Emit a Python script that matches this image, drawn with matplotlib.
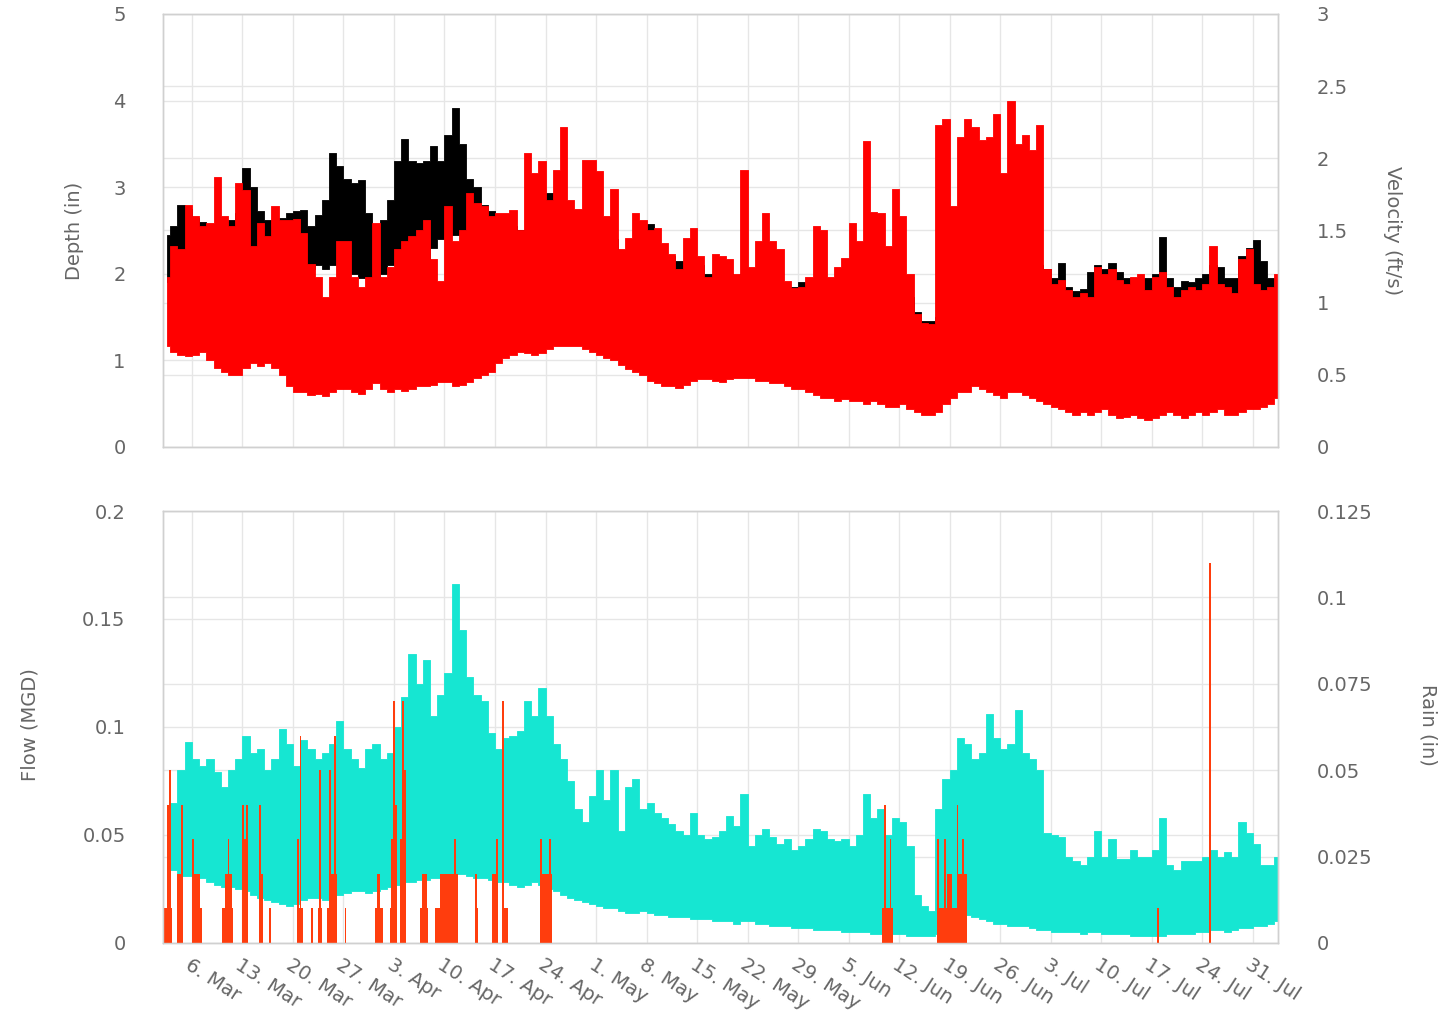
import numpy as np
import pandas as pd
import matplotlib
matplotlib.use("Agg")
import matplotlib.pyplot as plt
import matplotlib.dates as mdates
from matplotlib.ticker import FormatStrFormatter

# Daily envelopes (low / high of the 15-min record),
# one value per day starting 2 Mar 2017
start = "2017-03-02"

vel_hi = [1.18, 1.39, 1.37, 1.68, 1.60, 1.53, 1.55, 1.87, 1.60, 1.53,
          1.83, 1.78, 1.39, 1.55, 1.46, 1.67, 1.57, 1.57, 1.58, 1.48,
          1.27, 1.18, 1.04, 1.18, 1.43, 1.43, 1.18, 1.11, 1.18, 1.55,
          1.18, 1.25, 1.37, 1.43, 1.46, 1.50, 1.57, 1.30, 1.15,
          1.67, 1.43, 1.50, 1.76, 1.69, 1.67, 1.60, 1.62, 1.62, 1.64,
          1.50, 2.04, 1.90, 1.98, 1.71, 1.92, 2.22, 1.71, 1.65, 1.99,
          1.99, 1.91, 1.60, 1.79, 1.37, 1.45, 1.62, 1.57, 1.50, 1.52,
          1.41, 1.34, 1.23, 1.45, 1.52, 1.32, 1.18, 1.34, 1.32,
          1.30, 1.20, 1.92, 1.25, 1.43, 1.62, 1.43, 1.37, 1.15, 1.10,
          1.11, 1.18, 1.53, 1.50, 1.18, 1.25, 1.31, 1.55, 1.43, 2.12,
          1.63, 1.62, 1.39, 1.79, 1.60, 1.20, 0.92, 0.86, 0.85, 2.23,
          2.27, 1.67, 2.15, 2.27, 2.22, 2.13, 2.15, 2.31, 1.90,
          2.40, 2.10, 2.16, 2.06, 2.23, 1.23, 1.13, 1.16, 1.09, 1.04,
          1.07, 1.04, 1.25, 1.20, 1.23, 1.16, 1.13, 1.18, 1.20, 1.09,
          1.18, 1.21, 1.11, 1.04, 1.09, 1.11, 1.09, 1.13, 1.39, 1.13,
          1.11, 1.07, 1.30, 1.37, 1.13, 1.09, 1.11, 1.20]

vel_lo = [0.70, 0.66, 0.64, 0.63, 0.64, 0.66, 0.60, 0.55, 0.52, 0.50,
          0.50, 0.55, 0.58, 0.56, 0.58, 0.55, 0.50, 0.42, 0.38, 0.38,
          0.36, 0.37, 0.35, 0.38, 0.40, 0.40, 0.38, 0.37, 0.40, 0.44,
          0.40, 0.38, 0.40, 0.39, 0.40, 0.42, 0.42, 0.43, 0.45,
          0.45, 0.42, 0.43, 0.45, 0.48, 0.50, 0.52, 0.58, 0.62, 0.64,
          0.66, 0.65, 0.64, 0.65, 0.68, 0.70, 0.70, 0.70, 0.70, 0.68,
          0.66, 0.64, 0.62, 0.60, 0.57, 0.54, 0.52, 0.50, 0.46, 0.44,
          0.42, 0.42, 0.41, 0.43, 0.46, 0.47, 0.47, 0.46, 0.45,
          0.47, 0.48, 0.48, 0.48, 0.46, 0.46, 0.44, 0.44, 0.42, 0.40,
          0.40, 0.38, 0.36, 0.34, 0.34, 0.32, 0.33, 0.32, 0.32, 0.30,
          0.32, 0.30, 0.28, 0.28, 0.30, 0.26, 0.24, 0.22, 0.22, 0.24,
          0.30, 0.34, 0.38, 0.38, 0.42, 0.40, 0.38, 0.36, 0.34,
          0.38, 0.38, 0.36, 0.34, 0.32, 0.30, 0.28, 0.26, 0.24, 0.22,
          0.24, 0.22, 0.24, 0.26, 0.22, 0.20, 0.21, 0.22, 0.20, 0.19,
          0.20, 0.22, 0.24, 0.22, 0.20, 0.22, 0.24, 0.22, 0.24, 0.26,
          0.22, 0.22, 0.24, 0.26, 0.26, 0.28, 0.30, 0.34]

depth_hi = [2.45, 2.55, 2.80, 2.75, 2.65, 2.60, 2.50, 2.55, 2.60, 2.62,
            2.70, 3.22, 3.00, 2.72, 2.62, 2.55, 2.65, 2.70, 2.72, 2.74,
            2.55, 2.68, 2.85, 3.40, 3.25, 3.10, 3.05, 3.08, 2.70, 2.55,
            2.62, 2.85, 3.30, 3.56, 3.30, 3.28, 3.30, 3.48, 3.30,
            3.60, 3.91, 3.50, 3.10, 3.00, 2.80, 2.72, 2.68, 2.60, 2.55,
            2.50, 2.47, 2.60, 2.80, 2.93, 2.80, 2.70, 2.60, 2.60, 2.60,
            2.60, 2.50, 2.45, 2.40, 2.20, 2.20, 2.30, 2.45, 2.58, 2.30,
            2.15, 2.20, 2.15, 2.10, 2.10, 2.10, 2.00, 2.00, 2.00,
            2.00, 1.95, 2.00, 1.95, 1.95, 1.90, 1.90, 1.90, 1.85, 1.85,
            1.90, 1.85, 1.95, 1.85, 1.85, 1.80, 1.80, 1.80, 1.80, 1.80,
            1.80, 1.80, 1.80, 1.80, 1.75, 1.73, 1.56, 1.46, 1.45, 1.50,
            1.90, 2.00, 2.10, 2.10, 2.10, 2.10, 2.10, 2.10, 2.10,
            2.10, 2.10, 2.10, 2.10, 2.10, 2.05, 1.95, 2.12, 1.85, 1.80,
            1.82, 2.02, 2.10, 2.05, 2.12, 2.02, 1.95, 1.92, 1.95, 1.95,
            2.00, 2.43, 1.95, 1.85, 1.92, 1.90, 1.95, 2.00, 2.10, 2.08,
            1.95, 1.95, 2.20, 2.30, 2.39, 2.15, 1.95, 1.90]

depth_lo = [1.90, 1.95, 2.00, 2.00, 2.00, 1.95, 1.90, 1.90, 1.90, 1.90,
            1.90, 2.00, 2.00, 2.00, 1.95, 1.95, 2.00, 2.00, 2.05, 2.05,
            2.05, 2.10, 2.05, 2.10, 2.15, 2.10, 2.00, 1.95, 1.95, 1.95,
            2.00, 2.10, 2.20, 2.30, 2.30, 2.20, 2.15, 2.30, 2.40,
            2.45, 2.45, 2.45, 2.40, 2.30, 2.20, 2.10, 2.00, 1.95, 1.90,
            1.90, 1.90, 1.90, 1.95, 2.00, 1.95, 1.90, 1.85, 1.80, 1.80,
            1.75, 1.70, 1.70, 1.65, 1.60, 1.60, 1.60, 1.65, 1.70, 1.70,
            1.60, 1.60, 1.60, 1.55, 1.55, 1.50, 1.50, 1.50, 1.50,
            1.50, 1.45, 1.45, 1.45, 1.45, 1.40, 1.40, 1.40, 1.40, 1.40,
            1.40, 1.40, 1.40, 1.35, 1.35, 1.35, 1.35, 1.35, 1.30, 1.30,
            1.30, 1.30, 1.30, 1.30, 1.25, 1.20, 1.05, 1.00, 1.00, 1.05,
            1.40, 1.50, 1.50, 1.55, 1.55, 1.55, 1.55, 1.55, 1.55, 1.55,
            1.55, 1.55, 1.55, 1.50,
            1.70, 1.65, 1.65, 1.60, 1.60, 1.60, 1.65, 1.70, 1.65, 1.65,
            1.60, 1.60, 1.60, 1.60, 1.60, 1.60, 1.70, 1.60, 1.60, 1.60,
            1.60, 1.60, 1.60, 1.65, 1.65, 1.60, 1.60, 1.70, 1.60, 1.46,
            1.50, 1.55, 1.60]

flow_hi = [0.062, 0.065, 0.080, 0.093, 0.085, 0.082, 0.085, 0.079, 0.072, 0.080,
           0.085, 0.096, 0.088, 0.090, 0.080, 0.085, 0.099, 0.092, 0.082, 0.094,
           0.090, 0.085, 0.088, 0.092, 0.103, 0.090, 0.085, 0.081, 0.090, 0.092,
           0.085, 0.088, 0.100, 0.114, 0.134, 0.120, 0.131, 0.105, 0.115, 0.125,
           0.166, 0.145, 0.123, 0.115, 0.112, 0.097, 0.090, 0.095, 0.096, 0.098,
           0.112, 0.105, 0.118, 0.105,
           0.092, 0.085, 0.075, 0.062, 0.056, 0.068, 0.080, 0.066, 0.080, 0.052,
           0.072, 0.076, 0.062, 0.065, 0.060, 0.058, 0.055, 0.052, 0.050, 0.060,
           0.050, 0.048, 0.049, 0.052, 0.059, 0.054, 0.069, 0.045, 0.050, 0.053,
           0.049, 0.046, 0.048, 0.043, 0.045, 0.048, 0.053, 0.052, 0.048, 0.047,
           0.048, 0.045, 0.050, 0.069, 0.058, 0.062, 0.050, 0.058, 0.056, 0.045,
           0.022, 0.017, 0.015, 0.062,
           0.076, 0.080, 0.095, 0.092, 0.085, 0.088, 0.106, 0.095, 0.090, 0.092,
           0.108, 0.088, 0.085, 0.080, 0.051, 0.050, 0.049, 0.040, 0.038, 0.036,
           0.040, 0.052, 0.040, 0.048, 0.039, 0.039, 0.043, 0.040, 0.040, 0.043,
           0.058, 0.036, 0.034, 0.038, 0.038, 0.038, 0.040, 0.043, 0.040, 0.042,
           0.040, 0.056, 0.051, 0.046, 0.036, 0.036, 0.040]

flow_lo = [0.038, 0.034, 0.031, 0.031, 0.031, 0.030, 0.028, 0.027, 0.026, 0.026,
           0.025, 0.024, 0.022, 0.021, 0.020, 0.019, 0.018, 0.017, 0.018, 0.020,
           0.021, 0.021, 0.020, 0.021, 0.022, 0.023, 0.024, 0.024, 0.023, 0.024,
           0.025, 0.026, 0.027, 0.028, 0.028, 0.029, 0.029, 0.030, 0.030, 0.031,
           0.032, 0.032, 0.031, 0.030, 0.030, 0.029, 0.028, 0.028, 0.027, 0.026,
           0.027, 0.028, 0.027, 0.025, 0.024, 0.022, 0.021, 0.020, 0.019, 0.018,
           0.017, 0.016, 0.016, 0.015, 0.014, 0.014, 0.015, 0.014, 0.013, 0.013,
           0.012, 0.012, 0.012, 0.011, 0.011, 0.011, 0.010, 0.010, 0.010, 0.009,
           0.010, 0.010, 0.009, 0.009, 0.008, 0.008, 0.008, 0.007, 0.007, 0.007,
           0.006, 0.006, 0.006, 0.006, 0.005, 0.005, 0.005, 0.005, 0.004, 0.004,
           0.004, 0.004, 0.004, 0.003, 0.003, 0.003, 0.003, 0.004, 0.006, 0.010,
           0.012, 0.013, 0.012, 0.011, 0.010, 0.009, 0.009, 0.008, 0.008, 0.008,
           0.007, 0.006, 0.006, 0.005, 0.005, 0.005, 0.005, 0.004, 0.005, 0.005,
           0.004, 0.004, 0.004, 0.004, 0.003, 0.003, 0.003, 0.003, 0.003, 0.004,
           0.004, 0.004, 0.004, 0.005, 0.005, 0.006, 0.006, 0.005, 0.006, 0.007,
           0.007, 0.008, 0.008, 0.009, 0.010]

# rain gauge: (start, duration in hours, inches)
rain = [
    ("2017-03-02 01:00", 28, 0.01), ("2017-03-02 14:00", 6, 0.04),
    ("2017-03-02 21:00", 6, 0.05), ("2017-03-03 23:00", 20, 0.02),
    ("2017-03-04 12:00", 6, 0.04), ("2017-03-06 00:00", 26, 0.02),
    ("2017-03-06 01:00", 6, 0.03), ("2017-03-07 02:00", 7, 0.01),
    ("2017-03-10 05:00", 36, 0.01), ("2017-03-10 14:00", 24, 0.02),
    ("2017-03-10 23:00", 6, 0.03), ("2017-03-12 22:00", 22, 0.03),
    ("2017-03-13 00:00", 6, 0.04), ("2017-03-13 12:00", 6, 0.04),
    ("2017-03-15 07:00", 13, 0.02), ("2017-03-15 08:00", 6, 0.04),
    ("2017-03-16 18:00", 6, 0.01), ("2017-03-20 14:00", 19, 0.01),
    ("2017-03-20 15:00", 6, 0.03), ("2017-03-20 22:00", 6, 0.06),
    ("2017-03-22 13:00", 6, 0.01), ("2017-03-23 12:00", 12, 0.01),
    ("2017-03-23 15:00", 6, 0.05), ("2017-03-24 17:00", 34, 0.01),
    ("2017-03-25 02:00", 24, 0.02), ("2017-03-25 01:00", 6, 0.05),
    ("2017-03-25 18:00", 6, 0.06), ("2017-03-27 04:00", 6, 0.01),
    ("2017-03-31 10:00", 26, 0.01), ("2017-03-31 14:00", 10, 0.02),
    ("2017-04-02 10:00", 24, 0.01), ("2017-04-02 14:00", 20, 0.03),
    ("2017-04-02 21:00", 6, 0.07), ("2017-04-03 04:00", 6, 0.04),
    ("2017-04-03 19:00", 17, 0.03), ("2017-04-04 03:00", 6, 0.07),
    ("2017-04-04 10:00", 6, 0.05), ("2017-04-06 14:00", 26, 0.01),
    ("2017-04-06 22:00", 17, 0.02), ("2017-04-08 17:00", 77, 0.01),
    ("2017-04-09 10:00", 60, 0.02), ("2017-04-11 09:00", 6, 0.03),
    ("2017-04-14 05:00", 10, 0.01), ("2017-04-14 06:00", 6, 0.02),
    ("2017-04-16 14:00", 19, 0.02), ("2017-04-17 04:00", 6, 0.03),
    ("2017-04-18 00:00", 19, 0.01), ("2017-04-17 23:00", 6, 0.07),
    ("2017-04-23 05:00", 41, 0.02), ("2017-04-23 06:00", 6, 0.03),
    ("2017-04-24 11:00", 6, 0.03),
    ("2017-06-09 14:00", 36, 0.01), ("2017-06-09 23:00", 6, 0.04),
    ("2017-06-10 16:00", 6, 0.03),
    ("2017-06-17 05:00", 101, 0.01), ("2017-06-18 14:00", 17, 0.02),
    ("2017-06-20 02:00", 31, 0.02), ("2017-06-17 06:00", 6, 0.03),
    ("2017-06-18 06:00", 6, 0.03), ("2017-06-19 23:00", 6, 0.04),
    ("2017-06-20 18:00", 6, 0.03),
    ("2017-07-17 18:00", 6, 0.01), ("2017-07-24 23:00", 6, 0.11),
]

depth_ticks = [0, 1, 2, 3, 4, 5]
vel_ticks = [0, 0.5, 1, 1.5, 2, 2.5, 3]
flow_ticks = [0, 0.05, 0.1, 0.15, 0.2]
rain_ticks = [0, 0.025, 0.05, 0.075, 0.1, 0.125]

GRID = "#e6e6e6"
TXT = "#666666"
RED = "#ff0000"
CYAN = "#16e6d2"
RAIN = "#ff3d0d"


def days_of(series):
    # each daily value sits at noon of its day
    return pd.date_range(start, periods=len(series), freq="D") + pd.Timedelta(hours=12)


fig = plt.figure(figsize=(14.48, 10.29), dpi=100)
top = fig.add_axes([0.1126, 0.5656, 0.770, 0.4208])
top_r = top.twinx()
bot = fig.add_axes([0.1126, 0.0836, 0.770, 0.4198])
bot_r = bot.twinx()

# depth (black) under velocity (red): daily low-high range of each record
top.fill_between(days_of(depth_hi), depth_lo, depth_hi, step="mid",
                 color="black", linewidth=0.6)
top_r.fill_between(days_of(vel_hi), vel_lo, vel_hi, step="mid",
                   color=RED, linewidth=0.6)

# flow (cyan) under rain bars
bot.fill_between(days_of(flow_hi), flow_lo, flow_hi, step="mid",
                 color=CYAN, linewidth=0.6)
r_start = mdates.date2num(pd.to_datetime([r[0] for r in rain]))
r_width = np.array([r[1] for r in rain]) / 24.0
r_val = [r[2] for r in rain]
bot_r.bar(r_start, r_val, width=r_width, align="edge", color=RAIN, linewidth=0)

x0, x1 = pd.Timestamp("2017-03-02"), pd.Timestamp("2017-08-03 12:00")
for ax in (top, top_r, bot, bot_r):
    ax.set_xlim(x0, x1)
    ax.tick_params(which="both", length=0, labelsize=14, labelcolor=TXT)
    for s in ax.spines.values():
        s.set_color("#d0d0d0")
        s.set_linewidth(1.0)

top.set_ylim(0, 5)
top.set_yticks(depth_ticks)
top_r.set_ylim(0, 3)
top_r.set_yticks(vel_ticks)
top_r.yaxis.set_major_formatter(FormatStrFormatter("%g"))
# velocity grid drawn on the depth axes so it stays behind the data
top.set_yticks([v * 5 / 3 for v in vel_ticks], minor=True)

bot.set_ylim(0, 0.2)
bot.set_yticks(flow_ticks)
bot.yaxis.set_major_formatter(FormatStrFormatter("%g"))
bot_r.set_ylim(0, 0.125)
bot_r.set_yticks(rain_ticks)
bot_r.yaxis.set_major_formatter(FormatStrFormatter("%g"))
bot.set_yticks([r * 0.2 / 0.125 for r in rain_ticks], minor=True)

for ax in (top, bot):
    ax.xaxis.set_major_locator(mdates.WeekdayLocator(byweekday=mdates.MO))
    ax.xaxis.set_major_formatter(mdates.DateFormatter("%-d. %b"))
    ax.grid(True, which="both", color=GRID, linewidth=1)
    ax.set_axisbelow(True)
    ax.tick_params(axis="y", pad=27)
for ax in (top_r, bot_r):
    ax.tick_params(axis="y", pad=28)

top.tick_params(axis="x", labelbottom=False)
bot.tick_params(axis="x", pad=9)
plt.setp(bot.get_xticklabels(), rotation=-33, ha="left", va="top",
         rotation_mode="anchor")

top.set_ylabel("Depth (in)", fontsize=14, color=TXT, va="center")
top.yaxis.set_label_coords(-0.079, 0.50)
top_r.set_ylabel("Velocity (ft/s)", fontsize=14, color=TXT, rotation=270, va="center")
top_r.yaxis.set_label_coords(1.103, 0.50)
bot.set_ylabel("Flow (MGD)", fontsize=14, color=TXT, va="center")
bot.yaxis.set_label_coords(-0.119, 0.505)
bot_r.set_ylabel("Rain (in)", fontsize=14, color=TXT, rotation=270, va="center")
bot_r.yaxis.set_label_coords(1.1345, 0.505)

fig.savefig("out.png", dpi=100, facecolor="white")
